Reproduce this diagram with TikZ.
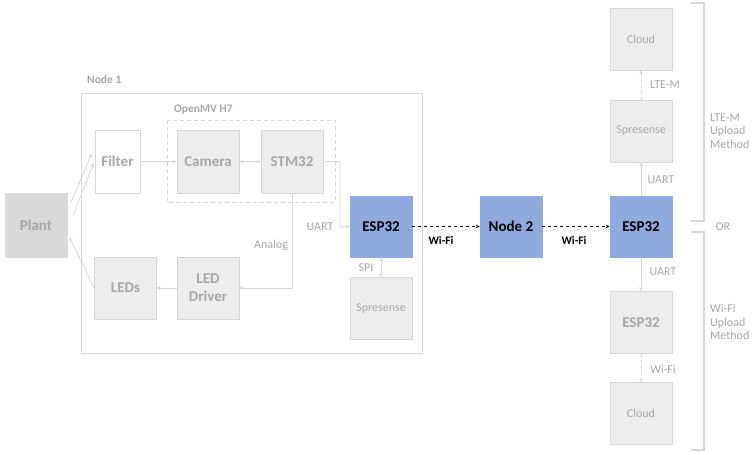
\documentclass[tikz,border=0pt]{standalone}
\usepackage{fontspec}
\setmainfont{Carlito}
\usetikzlibrary{positioning,arrows.meta,calc}
\definecolor{boxGray}{RGB}{237,237,237}
\definecolor{lineGray}{RGB}{214,214,214}
\definecolor{txtGray}{RGB}{166,166,166}
\definecolor{plantGray}{RGB}{217,217,217}
\definecolor{espBlue}{RGB}{143,170,220}

\begin{document}
\begin{tikzpicture}[x=1pt,y=-1pt,
  blk/.style={draw=lineGray, fill=boxGray, line width=0.5pt, minimum width=62pt, minimum height=62pt,
    inner sep=0pt, text=txtGray, align=center, font=\fontsize{15}{18}\selectfont\bfseries},
  small/.style={font=\fontsize{12}{13}\selectfont},
  blue/.style={fill=espBlue, draw=espBlue, text=black},
  lbl/.style={text=txtGray, font=\fontsize{12}{13.5}\selectfont, inner sep=0pt},
  wlbl/.style={text=black, font=\fontsize{11.5}{13}\selectfont\bfseries, inner sep=0pt},
  conn/.style={lineGray, line width=0.8pt, -{Stealth[length=4pt,width=3.5pt]}},
  wifi/.style={black, line width=0.8pt, dash pattern=on 3pt off 3pt, -{Stealth[length=4pt,width=3.5pt]}}]
  \useasboundingbox (0,0) rectangle (755,455);

  % Node 1 frame
  \node[draw=lineGray, line width=0.8pt, minimum width=341pt, minimum height=260pt, inner sep=0pt] (node1) at (251.5,223) {};
  \node[lbl, font=\fontsize{11.5}{13}\selectfont\bfseries, anchor=west] at (87,80) {Node 1};

  % OpenMV board
  \draw[lineGray, line width=0.8pt, dash pattern=on 4pt off 3pt] (167,120) rectangle (335,202);
  \node[lbl, font=\fontsize{11.5}{13}\selectfont\bfseries, anchor=west] at (174,110) {OpenMV H7};

  % Blocks
  \node[blk, fill=plantGray, draw=plantGray, minimum height=64pt] (plant) at (36,225) {Plant};
  \node[blk, fill=white, minimum width=45pt, minimum height=63pt] (filter) at (117.5,161.5) {Filter};
  \node[blk, minimum height=63pt] (camera) at (208,161.5) {Camera};
  \node[blk, minimum height=63pt] (stm) at (292,161.5) {STM32};
  \node[blk, blue, minimum height=61pt] (esp) at (381,226.5) {ESP32};
  \node[blk, small] (spr) at (381,308.5) {Spresense};
  \node[blk] (leds) at (125.5,288) {LEDs};
  \node[blk] (driver) at (208,288) {LED\\Driver};
  \node[blk, blue, minimum height=61pt] (node2) at (511,226.5) {Node 2};
  \node[blk, blue, minimum height=61pt] (espR) at (641,226.5) {ESP32};
  \node[blk, small] (sprR) at (641,131) {Spresense};
  \node[blk, small] (cloudT) at (641,39) {Cloud};
  \node[blk] (espG) at (641,322.5) {ESP32};
  \node[blk, small] (cloudB) at (641,413.5) {Cloud};

  % Node 1 connections
  \draw[conn] ([shift={(4,-23)}]plant.east) -- ([shift={(-3,-8)}]filter.west);
  \draw[conn] ([shift={(6,-10)}]plant.east) -- ([shift={(-1,1.5)}]filter.west);
  \draw[conn] (leds.west) -- ([shift={(2,12)}]plant.east);
  \draw[conn] (filter.east) -- (camera.west);
  \draw[conn, {Stealth[length=4pt,width=3.5pt]}-{Stealth[length=4pt,width=3.5pt]}] (camera.east) -- (stm.west);
  \draw[conn] (stm.east) -| (340,227) -- (esp.west);
  \draw[conn] (stm.south) |- (driver.east);
  \draw[conn] (driver.west) -- (leds.east);
  \draw[conn, {Stealth[length=4pt,width=3.5pt]}-{Stealth[length=4pt,width=3.5pt]}] (esp.south) -- (spr.north);
  \node[lbl] at (320,227) {UART};
  \node[lbl] at (271,245) {Analog};
  \node[lbl] at (366,268) {SPI};

  % Wi-Fi links
  \draw[wifi] (esp.east) -- (node2.west);
  \draw[wifi] (node2.east) -- (espR.west);
  \node[wlbl] at (441,240) {Wi-Fi};
  \node[wlbl] at (574,240) {Wi-Fi};

  % Upload methods
  \draw[conn] (espR.north) -- (sprR.south);
  \draw[conn, dash pattern=on 3pt off 3pt] (sprR.north) -- (cloudT.south);
  \draw[conn] (espR.south) -- (espG.north);
  \draw[conn, dash pattern=on 3pt off 3pt] (espG.south) -- (cloudB.north);
  \node[lbl] at (661,180) {UART};
  \node[lbl] at (665,85) {LTE-M};
  \node[lbl] at (663,272) {UART};
  \node[lbl] at (663,369) {Wi-Fi};

  % Brackets
  \draw[lineGray, line width=1.2pt] (691,3) -- (704,3) -- (704,221) -- (691,221);
  \draw[lineGray, line width=1.2pt] (691,232) -- (704,232) -- (704,450) -- (691,450);
  \node[lbl, align=left, anchor=west] at (710,131) {LTE-M\\Upload\\Method};
  \node[lbl] at (723,227) {OR};
  \node[lbl, align=left, anchor=west] at (710,322) {Wi-Fi\\Upload\\Method};
\end{tikzpicture}
\end{document}
